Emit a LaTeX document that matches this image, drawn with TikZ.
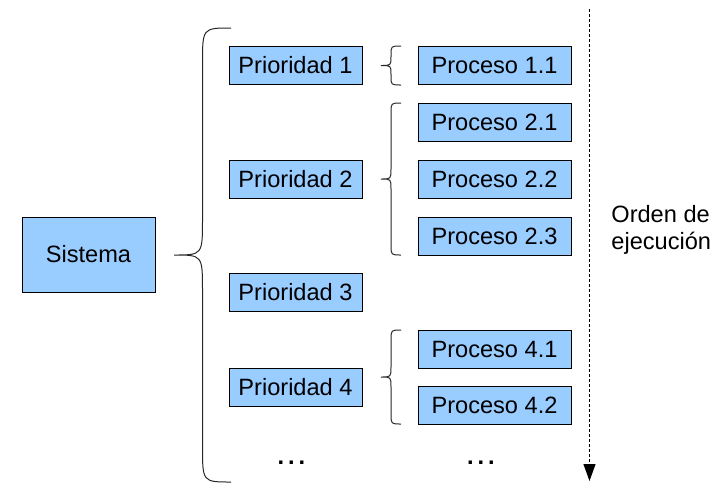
\documentclass[tikz,border=0pt]{standalone}
\usepackage{fontspec}
\setmainfont{Liberation Sans}
\usepackage{tikz}
\usetikzlibrary{arrows.meta}

% llave: x de los extremos, arriba, abajo, profundidad, radio
\newcommand{\llave}[5]{%
  \draw[llavelinea] (#1,#2) .. controls ({#1-#4/2},#2) .. ({#1-#4/2},{#2+#5})
    -- ({#1-#4/2},{(#2+#3)/2-#5}) .. controls ({#1-#4/2},{(#2+#3)/2}) .. ({#1-#4},{(#2+#3)/2})
    .. controls ({#1-#4/2},{(#2+#3)/2}) .. ({#1-#4/2},{(#2+#3)/2+#5})
    -- ({#1-#4/2},{#3-#5}) .. controls ({#1-#4/2},#3) .. (#1,#3);}

\begin{document}
\begin{tikzpicture}[x=0.5pt,y=-0.5pt,
    caja/.style={draw=black,line width=0.5pt,fill=azulcaja,inner sep=0pt,
        font=\fontsize{11.8}{13.5}\selectfont},
    prioridad/.style={caja,minimum width=66.5pt,minimum height=19pt},
    proceso/.style={caja,minimum width=76.5pt,minimum height=19pt},
    llavelinea/.style={line width=0.5pt,black!85},
    orden/.style={line width=0.5pt,dash pattern=on 1.5pt off 1pt,
        -{Triangle[length=8.5pt,width=6pt]}},
    texto/.style={font=\fontsize{11.8}{13.5}\selectfont}]
    \definecolor{azulcaja}{HTML}{99CCFF}
    \useasboundingbox (0,0) rectangle (724,500);

    \node[caja,minimum width=66.5pt,minimum height=37.5pt] (sistema) at (88.5,254.5) {Sistema};

    \node[prioridad] (prio1) at (295.5,65) {Prioridad 1};
    \node[prioridad] (prio2) at (295.5,179) {Prioridad 2};
    \node[prioridad] (prio3) at (295.5,292) {Prioridad 3};
    \node[prioridad] (prio4) at (295.5,387) {Prioridad 4};
    \node[texto,anchor=base] (prioN) at (291.5,464) {\textbf{.\,.\,.}};

    \node[proceso] (proc11) at (494.5,65) {Proceso 1.1};
    \node[proceso] (proc21) at (494.5,122) {Proceso 2.1};
    \node[proceso] (proc22) at (494.5,179) {Proceso 2.2};
    \node[proceso] (proc23) at (494.5,236) {Proceso 2.3};
    \node[proceso] (proc41) at (494.5,349) {Proceso 4.1};
    \node[proceso] (proc42) at (494.5,405.5) {Proceso 4.2};
    \node[texto,anchor=base] (procN) at (481,464) {\textbf{.\,.\,.}};

    % llaves
    \llave{231}{28}{482}{57}{36}
    \llave{401}{46}{85}{20}{9}
    \llave{401}{103}{255}{20}{10}
    \llave{401}{330}{424}{20}{10}

    % orden de ejecucion
    \coordinate (ini) at (589.5,9);
    \coordinate (fin) at (589.5,481);
    \draw[orden] (ini) -- (fin);
    \node[texto,anchor=west,align=left,inner sep=0pt] (etiqueta) at (611,229.5) {Orden de\\ejecución};
\end{tikzpicture}
\end{document}
